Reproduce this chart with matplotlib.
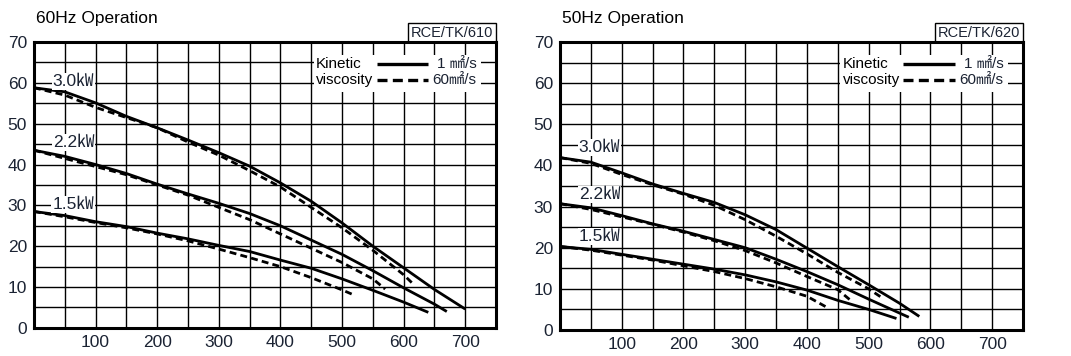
import numpy as np
import matplotlib
matplotlib.use('Agg')
import matplotlib.pyplot as plt

plt.rcParams['font.family'] = ['Liberation Sans', 'Noto Sans CJK JP', 'DejaVu Sans']

# flow points (x) and heads (y)
x_grid = [0, 50, 100, 150, 200, 250, 300, 350, 400, 450, 500, 550, 600, 650]

hz60 = {
    '3.0㎾': (x_grid + [700],
              [58.8, 57.8, 55.1, 51.8, 49.0, 46.0, 42.9, 39.6, 35.5, 31.0, 25.7, 20.0, 14.7, 9.4, 4.6],
              x_grid[:13] + [615],
              [58.8, 57.0, 54.0, 51.5, 49.0, 45.5, 42.3, 38.5, 34.5, 29.5, 24.5, 19.0, 13.0, 10.8]),
    '2.2㎾': (x_grid + [670],
              [43.5, 42.0, 40.0, 37.8, 35.2, 32.8, 30.5, 28.0, 25.0, 21.5, 18.0, 14.0, 9.8, 5.8, 4.0],
              x_grid[:12] + [570],
              [43.5, 41.5, 39.5, 37.5, 35.0, 32.5, 29.5, 26.5, 23.0, 19.5, 16.0, 12.0, 9.5]),
    '1.5㎾': (x_grid[:13] + [640],
              [28.5, 27.5, 26.0, 24.8, 23.2, 21.8, 20.2, 18.7, 16.6, 14.6, 12.0, 9.2, 6.3, 3.8],
              x_grid[:11] + [520],
              [28.5, 27.2, 25.8, 24.5, 23.0, 21.3, 19.3, 17.2, 15.0, 12.3, 9.3, 8.0]),
}

hz50 = {
    '3.0㎾': (x_grid[:12] + [582],
              [41.9, 40.8, 38.2, 35.5, 33.2, 31.0, 28.0, 24.4, 19.9, 15.4, 11.0, 6.5, 3.3],
              x_grid[:11] + [520],
              [41.9, 40.5, 37.8, 35.3, 33.0, 30.3, 26.8, 22.8, 18.5, 14.0, 10.0, 8.0]),
    '2.2㎾': (x_grid[:11] + [565],
              [30.7, 29.7, 27.8, 25.8, 24.0, 22.0, 20.0, 17.2, 14.2, 11.0, 7.5, 3.1],
              x_grid[:10] + [470],
              [30.7, 29.3, 27.5, 25.7, 23.8, 21.7, 19.3, 16.3, 13.0, 9.8, 7.3]),
    '1.5㎾': (x_grid[:11] + [545],
              [20.3, 19.6, 18.4, 17.2, 16.0, 14.8, 13.4, 11.7, 9.7, 7.2, 5.0, 2.8],
              x_grid[:9] + [430],
              [20.3, 19.4, 18.2, 17.0, 15.6, 14.2, 12.5, 10.5, 8.2, 5.7]),
}

label_y60 = [60.3, 45.3, 30.3]
label_y50 = [44.3, 33.0, 22.7]

text_color = '#1b2333'

fig = plt.figure(figsize=(10.71, 3.56), dpi=100)
ax1 = fig.add_axes([0.0317, 0.079, 0.4315, 0.803])
ax2 = fig.add_axes([0.5229, 0.073, 0.4323, 0.809])


def draw(ax, data, label_y, title, code):
    ax.set_xlim(0, 750)
    ax.set_ylim(0, 70)
    ax.set_xticks(np.arange(0, 751, 50), minor=True)
    ax.set_yticks(np.arange(0, 71, 5), minor=True)
    ax.set_xticks(np.arange(100, 701, 100))
    ax.set_yticks(np.arange(0, 71, 10))
    ax.grid(True, which='both', color='black', lw=1.0, zorder=0)
    ax.tick_params(which='both', length=0, labelsize=12.5, colors=text_color)
    ax.tick_params(axis='x', pad=5)
    ax.tick_params(axis='y', pad=5)
    for s in ax.spines.values():
        s.set_linewidth(2.2)
        s.set_zorder(5)

    for (name, (xs, ys, xd, yd)), ly in zip(data.items(), label_y):
        ax.plot(xs, ys, color='black', lw=2.0, zorder=3, solid_capstyle='butt')
        ax.plot(xd, yd, color='black', lw=2.0, ls=(0, (2.5, 1.5)), zorder=3)
        ax.text(64, ly, name, ha='center', va='center', fontsize=12.5, color=text_color,
                bbox=dict(facecolor='white', edgecolor='none', pad=0.8), zorder=4)

    # legend panel drawn over the grid
    ax.add_patch(plt.Rectangle((454, 57.8), 272, 9.0, facecolor='white', edgecolor='none', zorder=2))
    ax.text(458, 64.6, 'Kinetic', fontsize=11, va='center', ha='left', color='black', zorder=4)
    ax.text(458, 60.8, 'viscosity', fontsize=11, va='center', ha='left', color='black', zorder=4)
    ax.plot([556, 640], [64.6, 64.6], color='black', lw=2.4, zorder=4, solid_capstyle='butt')
    ax.plot([556, 640], [60.8, 60.8], color='black', lw=2.4, ls=(0, (3.0, 1.6)), zorder=4)
    ax.text(718, 64.6, '1 ㎟/s', fontsize=11, va='center', ha='right', color=text_color, zorder=4)
    ax.text(718, 60.8, '60㎟/s', fontsize=11, va='center', ha='right', color=text_color, zorder=4)

    ax.text(0.005, 1.055, title, transform=ax.transAxes, fontsize=12.5, ha='left', va='bottom')
    ax.text(0.993, 1.008, code, transform=ax.transAxes, fontsize=10.5, ha='right', va='bottom',
            color=text_color, bbox=dict(facecolor='white', edgecolor='black', lw=1.0, pad=2.0))


draw(ax1, hz60, label_y60, '60Hz Operation', 'RCE/TK/610')
draw(ax2, hz50, label_y50, '50Hz Operation', 'RCE/TK/620')

fig.savefig('out.png', dpi=100)
